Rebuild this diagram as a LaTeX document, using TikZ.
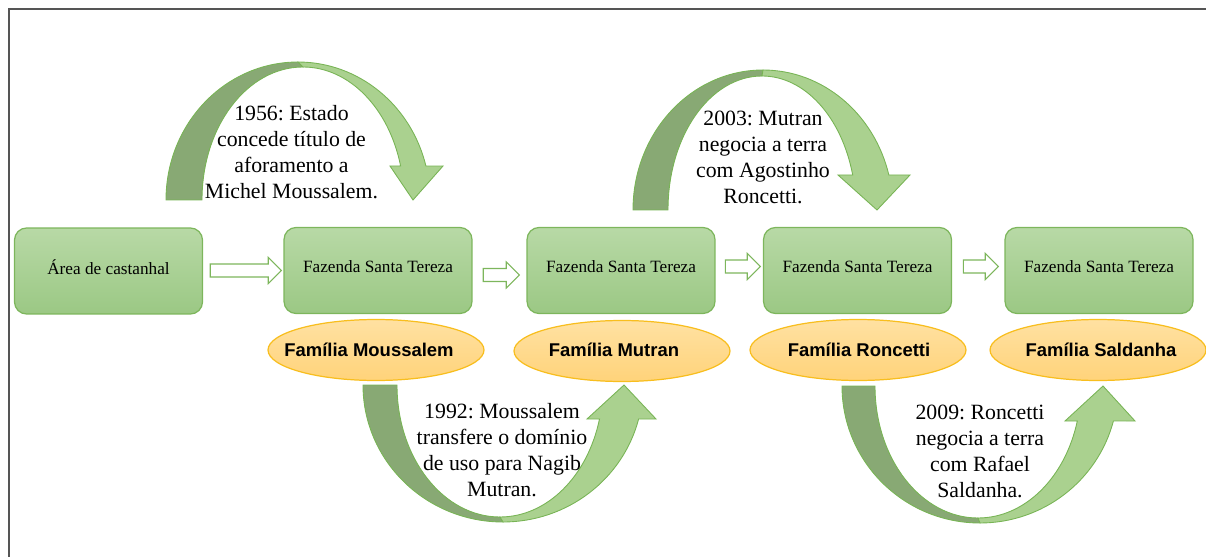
\documentclass[tikz,border=0pt]{standalone}
\usepackage{fontspec}
\setmainfont{Liberation Serif}
\newfontfamily\famfont{Liberation Sans}
\usetikzlibrary{shapes.geometric, shapes.arrows}
\frenchspacing

\definecolor{moldura}{RGB}{85,85,85}
\definecolor{caixatopo}{RGB}{184,217,166}
\definecolor{caixabase}{RGB}{155,200,132}
\definecolor{caixalinha}{RGB}{125,182,92}
\definecolor{famtopo}{RGB}{255,225,162}
\definecolor{fambase}{RGB}{255,211,122}
\definecolor{famlinha}{RGB}{248,190,30}
\definecolor{curvaescura}{RGB}{136,169,116}
\definecolor{curvaclara}{RGB}{170,209,143}
\definecolor{curvalinha}{RGB}{120,180,85}

\begin{document}
\begin{tikzpicture}[x = 0.02cm, y = 0.02cm,
		fazenda/.style = {rectangle, rounded corners = 0.24cm, draw = caixalinha, line width = 0.7pt, top color = caixatopo, bottom color = caixabase, minimum width = 3.76cm, minimum height = 1.72cm, inner sep = 0pt, text depth = 0.17cm, font = \fontsize{9.8}{11.8}\selectfont},
		familia/.style = {ellipse, draw = famlinha, line width = 0.7pt, top color = famtopo, bottom color = fambase, minimum width = 4.32cm, minimum height = 1.22cm, inner sep = 0pt},
		famtext/.style = {font = \famfont\bfseries\fontsize{10.5}{12.6}\selectfont},
		passo/.style = {single arrow, draw = caixalinha, fill = white, line width = 0.6pt, inner xsep = 0pt, inner ysep = 0.12cm, single arrow head extend = 0.13cm, minimum width = 0pt},
		evento/.style = {align = center, inner sep = 0pt, font = \fontsize{12.4}{14.8}\selectfont},
		curvaesc/.style = {fill = curvaescura, draw = curvalinha, line width = 0.5pt},
		curvacla/.style = {fill = curvaclara, draw = curvalinha, line width = 0.5pt}]
	\useasboundingbox (0,0) rectangle (1206,-557);
	\draw[draw = moldura, line width = 1.1pt] (9,-557) -- (9,-9) -- (1206,-9);

	% caixas
	\node[fazenda] (castanhal) at (108.5,-271) {Área de castanhal};
	\node[fazenda] (faz1) at (378,-270.5) {Fazenda Santa Tereza};
	\node[fazenda] (faz2) at (621,-270.5) {Fazenda Santa Tereza};
	\node[fazenda] (faz3) at (857.5,-270.5) {Fazenda Santa Tereza};
	\node[fazenda] (faz4) at (1099,-270.5) {Fazenda Santa Tereza};

	% setas entre as caixas
	\node[passo, minimum height = 1.42cm] (p1) at (242.5,-270.5) {};
	\node[passo, minimum height = 0.72cm] (p2) at (498,-275) {};
	\node[passo, minimum height = 0.7cm] (p3) at (739.5,-266.5) {};
	\node[passo, minimum height = 0.7cm] (p4) at (977.5,-266.5) {};

	% familias
	\node[familia] (fmou) at (376,-350) {};
	\node[familia] (fmut) at (622,-351) {};
	\node[familia] (fron) at (858,-350) {};
	\node[familia] (fsal) at (1098,-350) {};
	\node[famtext] (tmou) at (369,-350) {Família Moussalem};
	\node[famtext] (tmut) at (614,-350) {Família Mutran};
	\node[famtext] (tron) at (859,-350) {Família Roncetti};
	\node[famtext] (tsal) at (1101,-350) {Família Saldanha};

	% 1956
	\draw[curvaesc] (166,-200) arc[start angle = 180, end angle = 90, x radius = 132, y radius = 138] -- (303,-67) arc[start angle = 90, end angle = 180, x radius = 101, y radius = 133] -- cycle;
	\draw[curvacla] (298,-62) arc[start angle = 90, end angle = 14.26, x radius = 132, y radius = 138] -- (443,-166) -- (413,-200) -- (390,-166) -- (400.6,-166) arc[start angle = 14.81, end angle = 90, x radius = 101, y radius = 133] -- cycle;
	\node[evento] (e1956) at (291.5,-152.5) {1956: Estado\\concede título de\\aforamento a\\Michel Moussalem.};

	% 2003
	\draw[curvaesc] (633,-210) arc[start angle = 180, end angle = 90, x radius = 130, y radius = 140] -- (762,-76) arc[start angle = 90, end angle = 180, x radius = 94, y radius = 134] -- cycle;
	\draw[curvacla] (763,-70) arc[start angle = 90, end angle = 14.48, x radius = 130, y radius = 140] -- (910,-175) -- (877,-210) -- (838,-175) -- (852.7,-175) arc[start angle = 15.14, end angle = 90, x radius = 94, y radius = 134] -- cycle;
	\node[evento] (e2003) at (763,-157) {2003: Mutran\\negocia a terra\\com Agostinho\\Roncetti.};

	% 1992
	\draw[curvaesc] (363,-385) arc[start angle = 180, end angle = 270, x radius = 140, y radius = 137] -- (500,-517) arc[start angle = 270, end angle = 180, x radius = 103, y radius = 132] -- cycle;
	\draw[curvacla] (503,-522) arc[start angle = 270, end angle = 345.63, x radius = 140, y radius = 137] -- (656,-419) -- (624,-385) -- (587,-419) -- (599.5,-419) arc[start angle = 345.07, end angle = 270, x radius = 103, y radius = 132] -- cycle;
	\node[evento] (e1992) at (502,-450) {1992: Moussalem\\transfere o domínio\\de uso para Nagib\\Mutran.};

	% 2009
	\draw[curvaesc] (842,-386) arc[start angle = 180, end angle = 270, x radius = 138, y radius = 137] -- (978,-518) arc[start angle = 270, end angle = 180, x radius = 103, y radius = 132] -- cycle;
	\draw[curvacla] (980,-523) arc[start angle = 270, end angle = 345.2, x radius = 138, y radius = 137] -- (1135,-421) -- (1103,-386) -- (1065,-421) -- (1077.3,-421) arc[start angle = 344.62, end angle = 270, x radius = 103, y radius = 132] -- cycle;
	\node[evento] (e2009) at (980,-451) {2009: Roncetti\\negocia a terra\\com Rafael\\Saldanha.};
\end{tikzpicture}
\end{document}
